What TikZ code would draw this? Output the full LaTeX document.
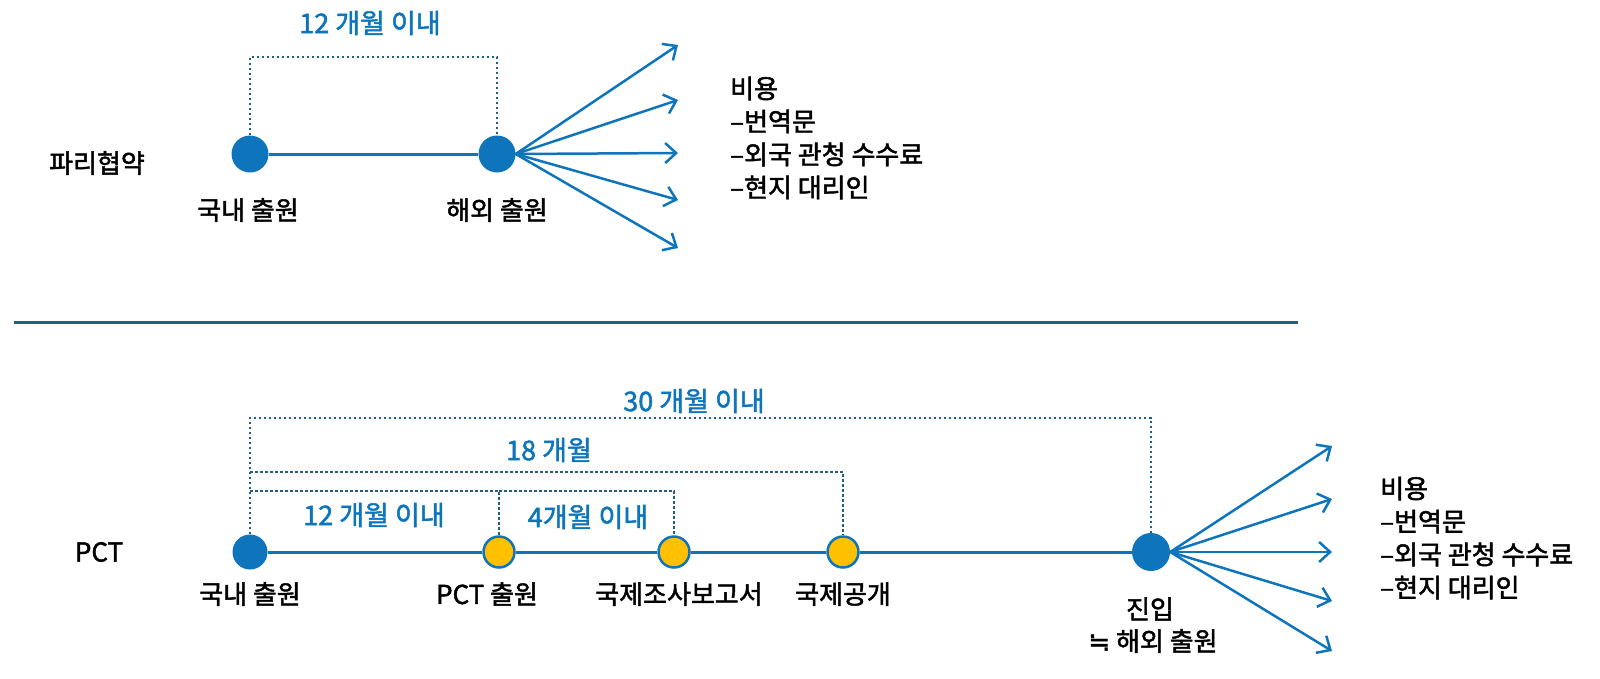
\documentclass[tikz,border=0pt]{standalone}
\usepackage{fontspec}
\setmainfont{Noto Sans CJK KR}[FakeBold=1.8]
\newfontfamily\symfont{DejaVu Sans}[FakeBold=1.8]
\usetikzlibrary{arrows.meta,positioning,calc}
\definecolor{pblue}{HTML}{0E75BC}
\definecolor{pteal}{HTML}{1F5F80}
\definecolor{pyel}{HTML}{FFC000}
\tikzset{
  bdot/.style={circle,fill=pblue,inner sep=0pt,minimum size=37pt},
  ydot/.style={circle,fill=pyel,draw=pblue,line width=2.5pt,inner sep=0pt,minimum size=31pt},
  tline/.style={pblue,line width=3pt},
  brk/.style={pteal,line width=2.5pt,dash pattern=on 2.5pt off 2.5pt},
  fan/.style={pblue,line width=2.5pt,-{Straight Barb[length=11pt,width=20pt]}},
  lbl/.style={font=\fontsize{26}{30}\selectfont,inner sep=0pt},
  blbl/.style={font=\fontsize{27}{30}\selectfont,text=pblue,inner sep=0pt},
  cost/.style={font=\fontsize{26}{33}\selectfont,align=left,inner sep=0pt,anchor=west},
}

\begin{document}
\begin{tikzpicture}[x=1pt,y=-1pt]
  \useasboundingbox (0,0) rectangle (1600,678);
  % Paris convention
  \node[lbl] (paris) at (97,163) {파리협약};
  \node[bdot] (dom1) at (250,154) {};
  \node[bdot] (abr1) at (497,154) {};
  \draw[tline] (dom1) -- (abr1);
  \coordinate (b1) at (497,57);
  \draw[brk] (dom1.north) |- (b1) -- (abr1.north);
  \node[blbl] (m12a) at (370,23) {12 개월 이내};
  \node[lbl] (dom1l) at (248,210) {국내 출원};
  \node[lbl] (abr1l) at (497,210) {해외 출원};
  \foreach \y [count=\i] in {45,100,153,200,248} {
    \coordinate (fa\i) at (678,\y);
    \draw[fan] (abr1.east) -- (fa\i);
  }
  \node[cost] (cost1) at (730,138) {비용\\–번역문\\–외국 관청 수수료\\–현지 대리인};

  \draw[pteal,line width=3pt] (14,322) -- (1298,322);

  % PCT
  \node[lbl] (pctl) at (99,552) {PCT};
  \node[bdot,minimum size=35pt] (dom2) at (250,552) {};
  \node[ydot] (pct) at (499,552) {};
  \node[ydot] (isr) at (674,552) {};
  \node[ydot] (pub) at (843,552) {};
  \node[bdot,minimum size=38pt] (ent) at (1151,552) {};
  \draw[tline] (dom2) -- (pct) -- (isr) -- (pub) -- (ent);
  \coordinate (b30) at (1151,418);
  \coordinate (b18) at (250,472);
  \coordinate (b12) at (250,491);
  \draw[brk] (dom2.north) |- (b30) -- (ent.north);
  \draw[brk] (b18) -| (pub.north);
  \draw[brk] (b12) -| (pct.north);
  \draw[brk] (pct.north |- b12) -| (isr.north);
  \node[blbl] (m30) at (694,401) {30 개월 이내};
  \node[blbl] (m18) at (549,450) {18 개월};
  \node[blbl] (m12b) at (374,515) {12 개월 이내};
  \node[blbl] (m4) at (588,517) {4개월 이내};
  \node[lbl] (dom2l) at (250,594) {국내 출원};
  \node[lbl] (pctfl) at (487,594) {PCT 출원};
  \node[lbl] (isrl) at (679,594) {국제조사보고서};
  \node[lbl] (publ) at (843,594) {국제공개};
  \node[lbl] (entl) at (1150,609) {진입};
  \node[lbl] (entl2) at (1153,641) {{\symfont ≒} 해외 출원};
  \foreach \y [count=\i] in {446,499,552,601,651} {
    \coordinate (fb\i) at (1332,\y);
    \draw[fan] (ent.east) -- (fb\i);
  }
  \node[cost] (cost2) at (1380,538) {비용\\–번역문\\–외국 관청 수수료\\–현지 대리인};
\end{tikzpicture}
\end{document}
